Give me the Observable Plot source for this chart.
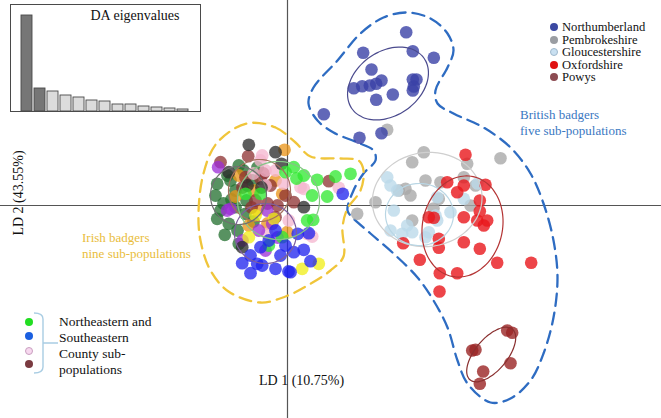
<!DOCTYPE html>
<html>
<head>
<meta charset="utf-8">
<script src="https://cdn.jsdelivr.net/npm/d3@7"></script>
<script src="https://cdn.jsdelivr.net/npm/@observablehq/plot@0.6"></script>
<style>
  body { margin: 0; background: #fff; }
  #wrap { position: relative; width: 661px; height: 418px; font-family: "Liberation Serif", "DejaVu Serif", serif; overflow: hidden; }
  #wrap > svg { position: absolute; left: 0; top: 0; }
  .abs { position: absolute; white-space: nowrap; font-family: "Liberation Serif", serif; }
  .row { position: absolute; display: flex; align-items: center; height: 12px; font-size: 12.6px; line-height: 12px; color: #111; font-family: "Liberation Serif", serif; white-space: nowrap; }
  .dot { width: 8px; height: 8px; border-radius: 50%; margin-right: 4px; box-sizing: border-box; flex: none; }
</style>
</head>
<body>
<div id="wrap"></div>
<script>
// ---------------- DATA (LD units) ----------------
const northumberland = [[11.87,17.33],[7.57,15.27],[12.53,15.43],[14.63,14.77],[8.4,13.6],[6.63,11.73],[7.47,11.93],[8.23,12.0],[8.87,12.17],[9.4,12.5],[8.87,10.57],[10.53,11.1],[12.53,12.6],[12.9,12.6],[12.53,11.5],[12.63,11.9],[3.63,9.13],[7.2,6.77],[9.4,7.23]];
const pembrokeshire = [[9.97,7.57],[13.63,5.33],[12.47,4.33],[17.97,4.17],[21.3,4.73],[13.8,2.5],[15.3,2.33],[17.63,2.83],[18.8,2.0],[11.13,1.5],[11.8,1.67],[12.3,1.0],[8.8,0.33],[15.13,0.67],[18.3,0.0],[6.97,-0.83],[12.47,-1.5],[14.6,-0.3]];
const gloucestershire = [[9.97,2.83],[10.3,2.0],[10.97,1.5],[10.63,-0.5],[10.3,-2.5],[11.97,-2.0],[12.47,-2.67],[13.8,-3.17],[14.13,-2.67],[14.97,-1.5],[16.3,-0.67],[14.97,0.83],[17.63,0.67],[14.8,-1.0],[11.47,-2.83],[19.0,2.2]];
const oxfordshire = [[17.8,5.07],[15.97,2.33],[17.63,2.0],[16.97,1.33],[19.8,2.07],[19.23,0.5],[19.23,-0.57],[18.97,-1.5],[19.97,-1.5],[19.63,-2.0],[14.13,-1.17],[14.63,-1.23],[17.63,-1.17],[15.13,-3.33],[15.13,-4.23],[17.63,-3.67],[19.23,-4.33],[11.57,-3.77],[13.23,-5.43],[15.23,-6.77],[16.97,-6.77],[20.97,-5.73],[24.37,-5.73],[15.2,-8.6]];
const powys = [[18.47,-14.5],[18.8,-14.43],[21.97,-12.5],[22.47,-12.73],[22.3,-15.77],[19.57,-16.6],[19.23,-17.83]];

const irishDarkGreen = [[-4.87,4.0],[-7.03,2.17],[-7.2,1.0],[-6.7,-0.5],[-7.03,-1.33],[-6.27,-2.93],[-5.2,1.5],[-5.2,-0.17],[-4.2,-0.83],[-5.87,-1.83],[-4.87,-3.83],[-3.53,2.5],[-5.7,2.5],[-4.4,3.5],[-4.1,0.5],[-5.6,0.6],[-3.4,-1.6],[-6.0,3.0],[-5.0,-2.5],[-3.0,3.8],[-6.4,0.2]];
const irishOrange = [[-4.87,3.0],[-3.37,1.5],[-0.53,1.17],[-1.2,2.5],[-3.03,-0.5],[-3.87,-2.0],[-0.03,-2.67],[-0.3,5.57],[-2.0,-1.8],[-5.2,0.9]];
const irishBrown = [[4.13,2.43],[-4.2,2.83],[-2.7,2.67],[-0.2,1.0],[-1.2,-1.17],[-3.2,0.5],[0.63,0.33],[-1.7,2.0],[-3.93,4.93],[-6.7,4.33],[-2.0,0.2],[-4.5,1.8],[-1.0,0.0],[-3.6,-0.2],[-2.4,3.2]];
const irishPink = [[5.13,1.77],[1.63,1.67],[2.47,-3.1],[-2.2,3.5],[-1.2,3.5],[-2.2,2.0],[-2.03,-2.83],[0.13,-1.5],[1.97,-2.83],[1.3,1.83],[-2.7,4.5],[-2.53,5.0],[-3.4,3.2],[-0.4,2.2]];
const irishPurple = [[-5.7,-0.33],[-6.03,-0.5],[-2.03,-0.5],[-2.87,-2.5],[-1.53,-1.83],[-2.2,-4.5],[-4.5,-3.5],[-6.93,3.83],[-1.0,-3.2]];
const irishYellow = [[1.47,-6.33],[3.13,-5.83],[-1.37,-1.33],[-3.87,-3.17],[-3.2,-1.0]];
const irishDark = [[-3.87,6.07],[-1.2,5.33],[-5.87,3.33],[-0.6,4.17],[1.63,-0.17],[-4.53,-4.17],[-4.0,2.0],[-2.6,1.8]];
const irishGreen = [[-4.2,1.17],[-2.7,1.17],[-0.2,3.33],[-0.53,-3.17],[-1.87,-4.0],[0.63,3.83],[1.63,3.0],[2.97,2.57],[4.8,2.9],[6.3,3.17],[2.47,1.0],[3.97,0.9],[1.97,-1.5],[2.57,-1.43],[0.9,2.7]];
const irishBlue = [[5.53,1.17],[-4.53,-5.77],[-3.7,-6.77],[-3.03,-5.83],[-2.7,-4.17],[-1.2,-6.33],[-0.7,-5.0],[0.3,-6.67],[0.1,-6.6],[0.63,-4.67],[1.63,-4.43],[2.13,-2.77],[1.03,-2.83],[2.3,-5.57],[-2.53,-6.0],[-1.87,-3.5],[-0.2,-4.0],[-1.2,-2.5],[-3.7,-5.0]];

const populations = ["Northumberland","Pembrokeshire","Gloucestershire","Oxfordshire","Powys"];
const popColors = ["#3a41a6","#a9a9a9","#bcdaea","#e8161c","#9a2424"];

const irishGroups = ["darkgreen","orange","brown","pink","purple","yellow","dark","green","blue"];
const irishColors = ["#23702f","#ea9418","#8e3232","#f4b6cf","#9c2ed6","#f0ee18","#2a2a2a","#2fe82f","#1e22ee"];

const britishOutline = [[12.0,19.3],[14.3,18.7],[16.0,17.2],[16.6,15.5],[16.0,13.8],[14.8,11.5],[15.0,10.2],[16.6,9.2],[19.6,7.8],[22.3,5.8],[24.3,3.2],[25.6,0.2],[26.6,-3.5],[27.0,-7.2],[26.6,-11.2],[25.6,-14.8],[24.3,-17.5],[22.3,-19.3],[20.3,-19.7],[18.0,-17.8],[17.0,-15.5],[16.0,-12.2],[14.6,-9.5],[13.0,-7.2],[10.6,-4.8],[8.3,-2.8],[6.5,-1.2],[6.0,-0.5],[6.6,1.5],[7.6,3.2],[8.8,4.5],[8.6,5.5],[7.0,6.3],[4.6,7.3],[3.0,8.5],[2.1,10.2],[2.6,11.8],[5.0,14.5],[7.3,17.2],[9.6,18.8]];
const irishOutline = [[-4.1,8.2],[-1.2,7.8],[0.8,6.3],[2.3,4.9],[5.3,4.7],[7.1,4.5],[7.6,3.5],[7.3,1.5],[6.0,-0.3],[5.5,-2.2],[5.6,-5.1],[4.3,-6.5],[2.0,-8.0],[-0.2,-9.1],[-2.7,-9.7],[-5.9,-8.6],[-7.7,-6.5],[-8.7,-3.5],[-8.9,-0.7],[-8.4,3.2],[-7.1,6.2]];

// inertia ellipses: centre, semi-axes, rotation (deg)
const ellipseNames = ["Northumberland","Pembrokeshire","Gloucestershire","Oxfordshire","Powys","IrishA","IrishB","IrishC","IrishD"];
const ellipseCenters = [[10.05,12.2],[13.97,0.6],[13.2,-0.9],[17.5,-2.1],[20.37,-14.9],[-2.8,1.5],[-2.2,-2.8],[-0.9,0.5],[-4.9,1.0]];
const ellipseAxes = [[4.4,3.2],[5.5,4.7],[3.4,3.1],[4.0,5.1],[3.3,1.6],[3.1,3.1],[3.1,3.0],[4.1,3.9],[2.8,2.9]];
const ellipseAngles = [35,8,0,-12,50,0,0,0,0];
const ellipseColors = ["#4b4b8e","#cfcfcf","#b9d6e4","#b43434","#8a3030","#a4705e","#7d5e9e","#86c486","#707070"];

const eigenLabels = ["1","2","3","4","5","6","7","8","9","10","11","12","13"];
const eigenValues = [96,23,20,16,14,11,10,7,7,5,4,3,2];

// ---------------- BUILD TABLES ----------------
const britishSets = [northumberland,pembrokeshire,gloucestershire,oxfordshire,powys];
const irishSets = [irishDarkGreen,irishOrange,irishBrown,irishPink,irishPurple,irishYellow,irishDark,irishGreen,irishBlue];
const drawOrderBritish = [1,2,3,4,0];
const britishPts = drawOrderBritish.flatMap(i => britishSets[i].map(([x,y]) => ({x,y,pop:populations[i],color:popColors[i]})));
const irishPts = irishSets.flatMap((s,i) => s.map(([x,y]) => ({x,y,pop:irishGroups[i],color:irishColors[i]})));

const ellipsePts = ellipseNames.flatMap((name,i) => {
  const [cx,cy] = ellipseCenters[i], [a,b] = ellipseAxes[i], t0 = ellipseAngles[i]*Math.PI/180;
  return d3.range(0, 361, 6).map(deg => {
    const t = deg*Math.PI/180;
    const ex = a*Math.cos(t), ey = b*Math.sin(t);
    return {name, color: ellipseColors[i], x: cx + ex*Math.cos(t0) - ey*Math.sin(t0), y: cy + ex*Math.sin(t0) + ey*Math.cos(t0)};
  });
});
const bOut = britishOutline.map(([x,y]) => ({x,y}));
const iOut = irishOutline.map(([x,y]) => ({x,y}));
const eig = eigenLabels.map((k,i) => ({k, v: eigenValues[i], fill: i < 2 ? "#767676" : "#dcdcdc"}));

// ---------------- MAIN PLOT ----------------
const main = Plot.plot({
  width: 661, height: 418, margin: 0,
  x: {domain: [-28.7, 37.4], axis: null},
  y: {domain: [-21.3, 20.5], axis: null},
  color: {type: "identity"},
  style: {background: "transparent"},
  marks: [
    Plot.ruleX([0], {stroke: "#555", strokeWidth: 1.2}),
    Plot.ruleY([0], {stroke: "#555", strokeWidth: 1.2}),
    Plot.line(bOut, {x: "x", y: "y", curve: "catmull-rom-closed", stroke: "#2e6cc2", strokeWidth: 2.3, strokeDasharray: "12,7"}),
    Plot.line(iOut, {x: "x", y: "y", curve: "catmull-rom-closed", stroke: "#f0c53a", strokeWidth: 2.3, strokeDasharray: "12,7"}),
    Plot.dot(britishPts, {x: "x", y: "y", r: 6.3, fill: "color", fillOpacity: 0.8}),
    Plot.dot(irishPts, {x: "x", y: "y", r: 6.4, fill: "color", fillOpacity: 0.76}),
    Plot.line(ellipsePts, {x: "x", y: "y", z: "name", stroke: "color", strokeWidth: 1.2, curve: "catmull-rom-closed"})
  ]
});
const wrap = document.getElementById("wrap");
wrap.appendChild(main);

// ---------------- INSET ----------------
const inset = Plot.plot({
  width: 191, height: 108, margin: 0, marginRight: 1, marginBottom: 1,
  x: {type: "band", domain: eigenLabels, paddingInner: 0.12, paddingOuter: 0.5, axis: null},
  y: {domain: [0, 107], axis: null},
  color: {type: "identity"},
  style: {background: "#fff", fontFamily: "Liberation Serif"},
  marks: [
    Plot.barY(eig, {x: "k", y: "v", fill: "fill", stroke: "#4a4a4a", strokeWidth: 0.9}),
    Plot.frame({stroke: "#4a4a4a", strokeWidth: 1}),
    Plot.text(["DA eigenvalues"], {frameAnchor: "top-left", dx: 80, dy: 6, textAnchor: "start", fontSize: 14, fill: "#111"})
  ]
});
const insetDiv = document.createElement("div");
insetDiv.className = "abs";
insetDiv.style.left = "10px"; insetDiv.style.top = "4px";
insetDiv.appendChild(inset);
wrap.appendChild(insetDiv);

// ---------------- LEGENDS & LABELS ----------------
function addRow(left, cy, color, border, label) {
  const r = document.createElement("div");
  r.className = "row";
  r.style.left = left + "px"; r.style.top = (cy - 6) + "px";
  const d = document.createElement("span");
  d.className = "dot"; d.style.background = color;
  if (border) d.style.border = "1px solid " + border;
  r.appendChild(d);
  if (label) { const t = document.createElement("span"); t.textContent = label; t.style.fontFamily = "'Liberation Serif', serif"; r.appendChild(t); }
  wrap.appendChild(r);
}
const legendColors = ["#3b49a2","#9a9da2","#c9e0f1","#e01212","#8c4b52"];
const legendBorders = [null,null,"#9fb8cc",null,null];
const legendY = [27,39.5,52,64.5,77];
populations.forEach((p,i) => addRow(550, legendY[i], legendColors[i], legendBorders[i], p));

const irishLegendColors = ["#22dd22","#1a5fe0","#f7d8ef","#7a3a40"];
const irishLegendBorders = [null,null,"#c9a0c0",null];
const irishLegendY = [322,336,351,364];
irishLegendColors.forEach((c,i) => addRow(25, irishLegendY[i], c, irishLegendBorders[i], null));

const bracket = document.createElementNS("http://www.w3.org/2000/svg","svg");
bracket.setAttribute("width","70"); bracket.setAttribute("height","80");
bracket.style.position = "absolute"; bracket.style.left = "0px"; bracket.style.top = "305px";
bracket.innerHTML = '<path d="M34,8 Q43,8 43,14 L43,62 Q43,68 34,68 M43,38 L58,38" fill="none" stroke="#a9cde3" stroke-width="1.4"/>';
wrap.appendChild(bracket);

function addText(txt, left, cy, size, color) {
  const d = document.createElement("div");
  d.className = "abs"; d.textContent = txt;
  d.style.left = left + "px"; d.style.top = (cy - 8) + "px";
  d.style.fontSize = size + "px"; d.style.lineHeight = "16px"; d.style.color = color;
  wrap.appendChild(d);
  return d;
}
const irishLegendText = ["Northeastern and","Southeastern","County sub-","populations"];
const irishTextY = [322,338,354,370];
irishLegendText.forEach((t,i) => addText(t, 59, irishTextY[i], 13.5, "#111"));

addText("British badgers", 520, 115, 13, "#3a78c2");
addText("five sub-populations", 520, 131, 13, "#3a78c2");
addText("Irish badgers", 82, 238, 13, "#e9bd3c");
addText("nine sub-populations", 82, 254, 13, "#e9bd3c");
addText("LD 1 (10.75%)", 259, 381, 14, "#111");

const ld2 = document.createElement("div");
ld2.className = "abs"; ld2.textContent = "LD 2 (43.55%)";
ld2.style.fontSize = "14px"; ld2.style.lineHeight = "16px"; ld2.style.color = "#111";
ld2.style.left = "19px"; ld2.style.top = "193px";
ld2.style.transform = "translate(-50%,-50%) rotate(-90deg)";
wrap.appendChild(ld2);
</script>
</body>
</html>
